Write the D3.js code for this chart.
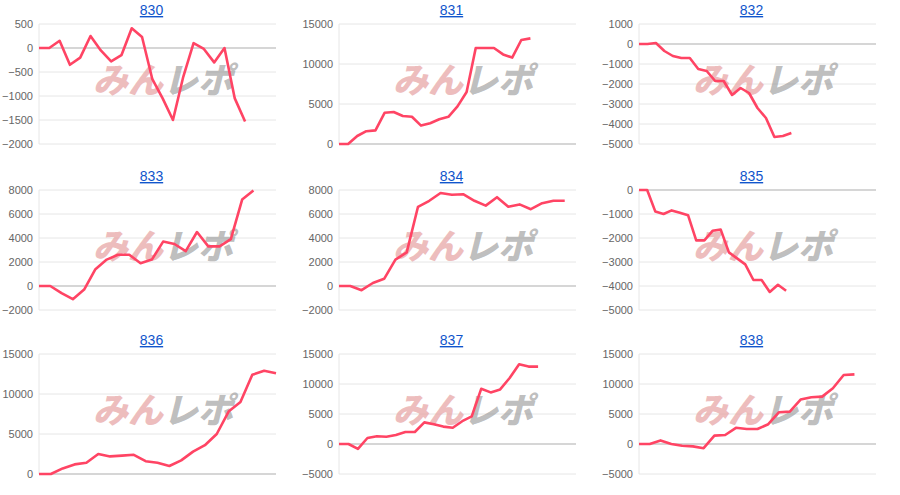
<!DOCTYPE html>
<html><head><meta charset="utf-8">
<script src="https://cdn.jsdelivr.net/npm/d3@7"></script>
<style>
body{margin:0;background:#fff;font-family:Arial,"Liberation Sans",sans-serif}
</style></head><body>
<div id="chart"></div>
<script>
var names = ["830","831","832","833","834","835","836","837","838"];
var xMax = [23,26,28,21,21,29,20,25,22];
var yTicks = [
  [500,0,-500,-1000,-1500,-2000],
  [15000,10000,5000,0],
  [1000,0,-1000,-2000,-3000,-4000,-5000],
  [8000,6000,4000,2000,0,-2000],
  [8000,6000,4000,2000,0,-2000],
  [0,-1000,-2000,-3000,-4000,-5000],
  [15000,10000,5000,0],
  [15000,10000,5000,0,-5000],
  [15000,10000,5000,0,-5000]
];
var s830 = [0,0,150,-350,-200,250,-50,-280,-150,410,230,-650,-1050,-1500,-600,100,-20,-300,0,-1050,-1530];
var s831 = [0,0,1000,1600,1700,3900,4000,3500,3400,2300,2600,3100,3400,4700,6500,12000,12000,12000,11200,10800,13000,13200];
var s832 = [0,0,50,-350,-600,-700,-700,-1250,-1350,-1850,-1850,-2550,-2200,-2450,-3200,-3700,-4650,-4600,-4450];
var s833 = [0,0,-600,-1100,-300,1400,2200,2600,2600,1900,2200,3700,3500,2900,4500,3300,3300,3900,7200,7950];
var s834 = [0,0,-350,250,600,2200,2800,6600,7100,7750,7600,7650,7100,6700,7400,6600,6800,6400,6900,7100,7100];
var s835 = [0,0,-900,-1000,-850,-950,-1050,-2100,-2100,-1700,-1650,-2600,-2850,-3100,-3750,-3750,-4250,-3950,-4200];
var s836 = [0,0,700,1200,1400,2500,2200,2300,2400,1600,1400,1000,1700,2800,3600,5000,7800,9000,12400,12900,12600];
var s837 = [0,0,-800,1000,1300,1200,1500,2000,2000,3600,3300,2900,2700,3800,4600,9200,8600,9100,11000,13300,12900,12900];
var s838 = [0,0,600,0,-300,-400,-700,1400,1500,2700,2500,2500,3300,5300,5400,7400,7800,7900,9300,11500,11600];
var series = [s830,s831,s832,s833,s834,s835,s836,s837,s838];

var width = 900, height = 495;
var svg = d3.select("#chart").append("svg").attr("width", width).attr("height", height);

var colW = 300, plotL = 39, plotW = 237, plotH = 120;
var plotTops = [24, 190, 354];

names.forEach(function(name, i) {
    var col = i % 3, row = Math.floor(i / 3);
    var g = svg.append("g").attr("transform", "translate(" + (col * colW + plotL) + "," + plotTops[row] + ")");
    var ticks = yTicks[i];
    var x = d3.scaleLinear().domain([0, xMax[i]]).range([0, plotW]);
    var y = d3.scaleLinear().domain([d3.min(ticks), d3.max(ticks)]).range([plotH, 0]);

    // gridlines
    g.selectAll(".grid").data(ticks).enter().append("line")
        .attr("x1", 0).attr("x2", plotW)
        .attr("y1", function(d) { return y(d); }).attr("y2", function(d) { return y(d); })
        .attr("stroke", function(d) { return d === 0 ? "#c8c8c8" : "#e6e6e6"; })
        .attr("stroke-width", function(d) { return d === 0 ? 1.3 : 1; });
    g.append("line").attr("x1", 0).attr("x2", 0).attr("y1", 0).attr("y2", plotH)
        .attr("stroke", "#e6e6e6");

    // y axis labels
    var axis = g.append("g").call(d3.axisLeft(y).tickValues(ticks).tickFormat(d3.format("d")).tickSize(0).tickPadding(6));
    axis.select(".domain").remove();
    axis.selectAll("text").attr("fill", "#666").style("font-size", "11px")
        .style("font-family", "Arial, 'Liberation Sans', sans-serif");

    // watermark
    var wm = g.append("text").attr("x", 54).attr("y", 69)
        .style("font-size", "35px").style("font-weight", "900").style("font-style", "italic")
        .style("font-family", "'Noto Sans CJK JP', sans-serif");
    wm.append("tspan").attr("fill", "#e8a7a7").attr("fill-opacity", 0.75).text("みん");
    wm.append("tspan").attr("fill", "#999").attr("fill-opacity", 0.65).text("レポ");

    // line
    var line = d3.line().x(function(d, j) { return x(j); }).y(function(d) { return y(d); });
    g.append("path").datum(series[i]).attr("d", line)
        .attr("fill", "none").attr("stroke", "#ff4464").attr("stroke-width", 2.6)
        .attr("stroke-linejoin", "round");

    // title
    svg.append("text")
        .attr("x", col * colW + plotL + plotW / 2 - 6)
        .attr("y", plotTops[row] - 9)
        .attr("text-anchor", "middle")
        .attr("fill", "#1155cc").attr("text-decoration", "underline")
        .style("font-size", "14px").style("font-family", "Arial, 'Liberation Sans', sans-serif")
        .text(name);
});
</script>
</body></html>
